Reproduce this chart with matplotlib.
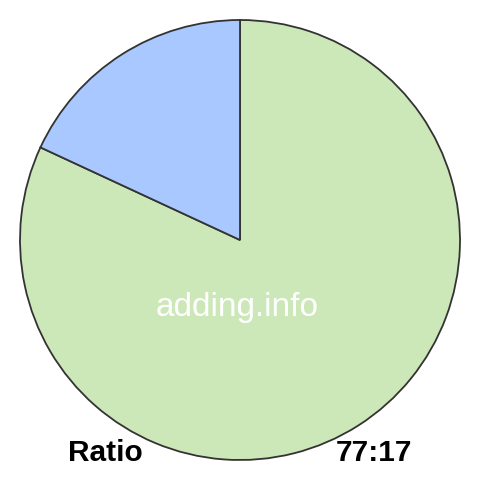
import matplotlib
matplotlib.use("Agg")
import matplotlib.pyplot as plt

# ratio values
labels = ["77", "17"]
values = [77, 17]
colors = ["#cde8b8", "#a9c8ff"]

plt.rcParams['font.family'] = ['Liberation Sans', 'DejaVu Sans']

fig = plt.figure(figsize=(4.8, 4.8), dpi=100)
ax = fig.add_axes([0, 0, 1, 1])

# pie centered in pixel coords, clockwise from 12 o'clock
ax.pie(values, colors=colors, startangle=90, counterclock=False,
       center=(240, 240), radius=220, frame=True,
       wedgeprops=dict(edgecolor='#333333', linewidth=1.3))
ax.set_xlim(0, 480)
ax.set_ylim(0, 480)
ax.set_aspect('equal')
ax.axis('off')

ax.text(237, 480 - 316, "adding.info", color='white', fontsize=24,
        ha='center', va='baseline')
ax.text(68, 480 - 461, "Ratio", color='black', fontsize=21.5,
        fontweight='bold', ha='left', va='baseline')
ax.text(412, 480 - 461, ":".join(labels), color='black', fontsize=21.5,
        fontweight='bold', ha='right', va='baseline')

fig.savefig("out.png", dpi=100, facecolor='white')
